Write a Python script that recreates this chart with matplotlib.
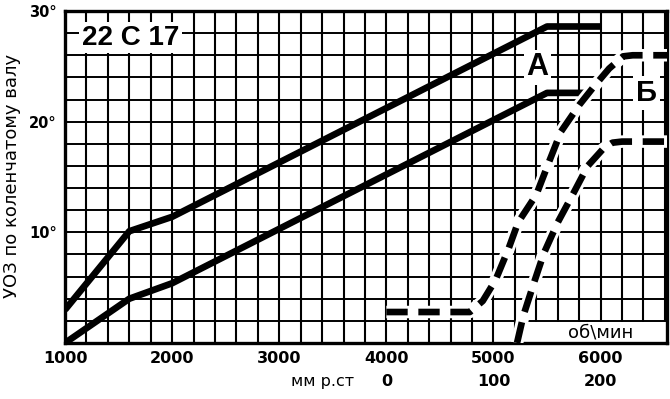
import matplotlib
matplotlib.use("Agg")
import matplotlib.pyplot as plt
from matplotlib.patches import Rectangle

# centrifugal advance, curve A (upper / lower limits): rpm -> degrees
a_hi_rpm = [1000, 1600, 2000, 5500, 6000]
a_hi_deg = [3.0, 10.1, 11.4, 28.6, 28.6]
a_lo_rpm = [1000, 1600, 2000, 5500, 5900]
a_lo_deg = [0.0, 4.0, 5.4, 22.6, 22.6]

# vacuum advance, curve Б (left / right limits), plotted on the rpm scale
b_left_rpm = [4000, 4780, 4900, 5020, 5140, 5230, 5400, 5520, 5630, 5800, 5940, 6080, 6210, 6300, 6620]
b_left_deg = [2.8, 2.8, 3.8, 5.7, 8.5, 10.9, 13.4, 16.4, 19.1, 21.5, 23.2, 24.8, 25.9, 26.0, 26.0]
b_right_rpm = [5220, 5280, 5380, 5470, 5600, 5750, 5880, 6020, 6110, 6200, 6620]
b_right_deg = [0.0, 2.5, 5.5, 8.1, 10.9, 13.6, 16.0, 17.5, 18.1, 18.2, 18.2]

rpm_ticks = [1000, 2000, 3000, 4000, 5000, 6000]
deg_ticks = [10, 20, 30]
deg_labels = ["10°", "20°", "30°"]
vac_pos = [4000, 5000, 6000]
vac_labels = ["0", "100", "200"]

BOLD = "DejaVu Sans"

fig = plt.figure(figsize=(6.70, 3.99), dpi=100)
ax = fig.add_axes([65 / 670, 1 - 343 / 399, 602 / 670, 332 / 399])
ax.set_xlim(1000, 6620)
ax.set_ylim(0, 30)

# grid paper
for x in range(1000, 6601, 200):
    ax.axvline(x, color="black", lw=1.5, zorder=1)
for y in range(0, 31, 2):
    ax.axhline(y, color="black", lw=1.4, zorder=1)
for s in ax.spines.values():
    s.set_linewidth(2.4)

ax.set_xticks(rpm_ticks)
ax.set_xticklabels([str(v) for v in rpm_ticks], fontsize=11.5, fontweight="bold", family=BOLD)
ax.set_yticks(deg_ticks)
ax.set_yticklabels(deg_labels, fontsize=10.5, fontweight="bold", family=BOLD)
ax.tick_params(length=0, pad=6)

ax.set_ylabel("УОЗ по коленчатому валу", fontsize=13, family="DejaVu Sans")
ax.yaxis.set_label_coords(-0.073, 0.503)

# curves A
ax.plot(a_hi_rpm, a_hi_deg, color="black", lw=4.8, solid_capstyle="butt", zorder=3)
ax.plot(a_lo_rpm, a_lo_deg, color="black", lw=4.8, solid_capstyle="butt", zorder=3)

# white box for the rpm unit label
ax.add_patch(Rectangle((5300, 0.12), 1320, 1.75, facecolor="white", edgecolor="none", zorder=2))
ax.text(6000, 0.95, "об\\мин", fontsize=13, family="DejaVu Sans", ha="center", va="center", zorder=6)

# curves Б: dashed with a white halo
for xs, ys in [(b_left_rpm, b_left_deg), (b_right_rpm, b_right_deg)]:
    ax.plot(xs, ys, color="white", lw=9, solid_capstyle="butt", zorder=4)
    ax.plot(xs, ys, color="black", lw=4.8, dashes=(3.2, 1.6), dash_capstyle="butt", zorder=5)

# labels on the paper
box = dict(facecolor="white", edgecolor="none", pad=2)
ax.text(1610, 27.6, "22 С 17", fontsize=20, fontweight="bold", family="Liberation Sans",
        ha="center", va="center", bbox=box, zorder=6)
ax.text(5410, 24.9, "А", fontsize=22, fontweight="bold", family="Liberation Sans",
        ha="center", va="center", bbox=box, zorder=6)
ax.text(6430, 22.6, "Б", fontsize=21, fontweight="bold", family="Liberation Sans",
        ha="center", va="center", bbox=box, zorder=6)

# second scale under the rpm axis: vacuum, mm Hg
for x, lab in zip(vac_pos, vac_labels):
    ax.annotate(lab, xy=(x, 0), xycoords=("data", "axes fraction"), xytext=(0, -33),
                textcoords="offset points", ha="center", va="bottom",
                fontsize=11.5, fontweight="bold", family=BOLD)
ax.annotate("мм р.ст", xy=(3406, 0), xycoords=("data", "axes fraction"), xytext=(0, -33),
            textcoords="offset points", ha="center", va="bottom",
            fontsize=11.5, family="DejaVu Sans")

fig.savefig("out.png", dpi=100)
